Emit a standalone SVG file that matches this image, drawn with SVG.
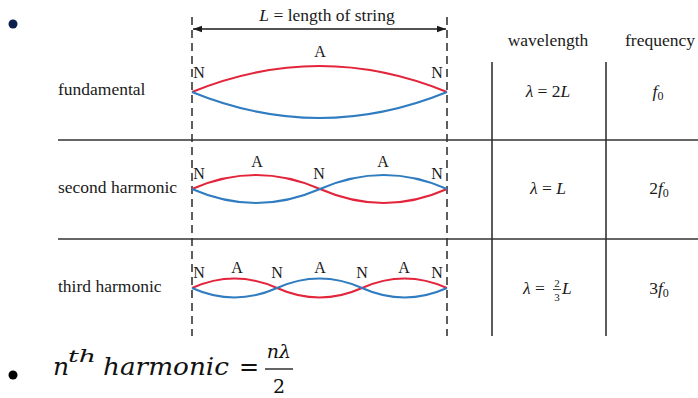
<svg xmlns="http://www.w3.org/2000/svg" width="698" height="398" viewBox="0 0 698 398">
<style>
  .t { font-family: "Liberation Serif", "DejaVu Serif", "Noto Serif", Times, serif; font-size: 17.5px; fill: #1a1a1a; }
  .lab { font-family: "Liberation Serif", "DejaVu Serif", "Noto Serif", Times, serif; font-size: 16px; fill: #1a1a1a; text-anchor: middle; }
  .c { text-anchor: middle; }
  .i { font-style: italic; }
  .red { fill: none; stroke: #e3243b; stroke-width: 2; }
  .blue { fill: none; stroke: #2f7cc0; stroke-width: 2; }
  .dash { stroke: #1a1a1a; stroke-width: 1.4; stroke-dasharray: 8 5; }
  .grid { stroke: #333; stroke-width: 1.6; }
  .math { font-family: "DejaVu Serif", "Liberation Serif", serif; font-style: italic; fill: #111; }
</style>
<defs>
  <marker id="ah" viewBox="0 0 10 10" refX="10" refY="5" markerWidth="9" markerHeight="9" markerUnits="userSpaceOnUse" orient="auto-start-reverse">
    <path d="M0,1.5 L10,5 L0,8.5 z" fill="#1a1a1a"/>
  </marker>
</defs>
<rect width="698" height="398" fill="#fff"/>

<g id="bullet-top"><circle cx="13" cy="24" r="4.5" fill="#0b1f4f"/></g>

<g id="frame">
  <line class="dash" x1="192" y1="17" x2="192" y2="336"/>
  <line class="dash" x1="447" y1="17" x2="447" y2="336"/>
  <line x1="193" y1="29" x2="446" y2="29" stroke="#1a1a1a" stroke-width="1.3" marker-start="url(#ah)" marker-end="url(#ah)"/>
  <text class="t c" x="327" y="21"><tspan class="i">L</tspan> = length of string</text>
</g>

<g id="table">
  <line class="grid" x1="58" y1="140" x2="698" y2="140"/>
  <line class="grid" x1="58" y1="239" x2="698" y2="239"/>
  <line class="grid" x1="492" y1="62" x2="492" y2="336"/>
  <line class="grid" x1="606" y1="62" x2="606" y2="336"/>
  <text class="t c" x="548" y="46">wavelength</text>
  <text class="t c" x="660" y="46">frequency</text>
</g>

<g id="fundamental">
  <text class="t" x="58" y="95">fundamental</text>
  <path class="red" d="M192,92 Q319.5,40 447,92"/>
  <path class="blue" d="M192,92 Q319.5,144 447,92"/>
  <text class="lab" x="199" y="78">N</text>
  <text class="lab" x="437" y="78">N</text>
  <text class="lab" x="320" y="57">A</text>
  <text class="t c" x="548" y="97"><tspan class="i">λ</tspan> = 2<tspan class="i">L</tspan></text>
  <text class="t c" x="658" y="97"><tspan class="i">f</tspan><tspan font-size="12" dy="3">0</tspan></text>
</g>

<g id="second-harmonic">
  <text class="t" x="58" y="193">second harmonic</text>
  <path class="red" d="M192,189 Q256,161 320,189 T447,189"/>
  <path class="blue" d="M192,189 Q256,217 320,189 T447,189"/>
  <text class="lab" x="199" y="179">N</text>
  <text class="lab" x="319" y="179">N</text>
  <text class="lab" x="437" y="179">N</text>
  <text class="lab" x="257" y="167">A</text>
  <text class="lab" x="383" y="167">A</text>
  <text class="t c" x="548" y="194"><tspan class="i">λ</tspan> = <tspan class="i">L</tspan></text>
  <text class="t c" x="659" y="194">2<tspan class="i">f</tspan><tspan font-size="12" dy="3">0</tspan></text>
</g>

<g id="third-harmonic">
  <text class="t" x="58" y="292">third harmonic</text>
  <path class="red" d="M192,288 Q234.5,269 277,288 T362,288 T447,288"/>
  <path class="blue" d="M192,288 Q234.5,307 277,288 T362,288 T447,288"/>
  <text class="lab" x="199" y="278">N</text>
  <text class="lab" x="277" y="278">N</text>
  <text class="lab" x="362" y="278">N</text>
  <text class="lab" x="437" y="278">N</text>
  <text class="lab" x="237" y="273">A</text>
  <text class="lab" x="320" y="273">A</text>
  <text class="lab" x="404" y="273">A</text>
  <text class="t" x="523" y="294"><tspan class="i">λ</tspan> =<tspan x="554.2" y="287" font-size="11">2</tspan><tspan x="554.2" y="300.5" font-size="11">3</tspan><tspan class="i" x="562" y="294">L</tspan></text>
  <line x1="553" y1="289.5" x2="561" y2="289.5" stroke="#1a1a1a" stroke-width="0.8"/>
  <text class="t c" x="659" y="294">3<tspan class="i">f</tspan><tspan font-size="12" dy="3">0</tspan></text>
</g>

<g id="formula">
  <circle cx="13" cy="375" r="4.5" fill="#000"/>
  <text class="math" x="53" y="375" font-size="25">n</text>
  <text class="math" x="68" y="362" font-size="16" textLength="28" lengthAdjust="spacingAndGlyphs">th</text>
  <text class="math" x="103" y="375" font-size="25" textLength="126" lengthAdjust="spacingAndGlyphs">harmonic</text>
  <text x="239" y="375" font-family="DejaVu Serif, serif" font-size="24" fill="#111">=</text>
  <text class="math" x="279" y="358" font-size="19" text-anchor="middle">nλ</text>
  <line x1="265" y1="369" x2="293" y2="369" stroke="#111" stroke-width="1.3"/>
  <text x="279" y="393" font-family="DejaVu Serif, serif" font-size="19" fill="#111" text-anchor="middle">2</text>
</g>
</svg>
